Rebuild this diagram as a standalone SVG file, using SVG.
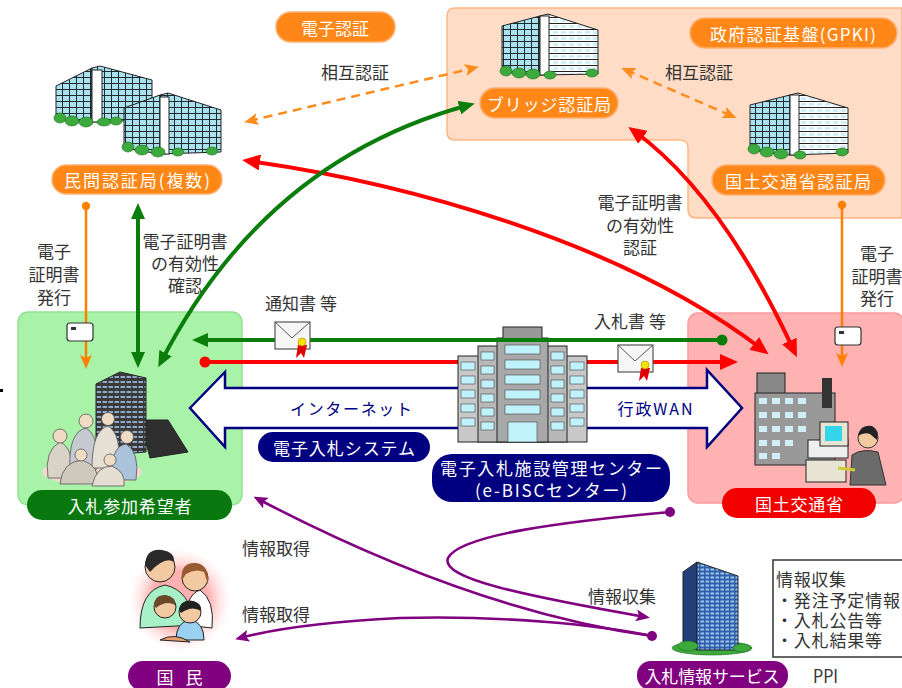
<svg xmlns="http://www.w3.org/2000/svg" width="902" height="688" viewBox="0 0 902 688">
<style>
  text{font-family:"Noto Sans CJK JP","Noto Sans",sans-serif;dominant-baseline:central}
  .lbl{font-size:17px;fill:#333}
  .pt{font-size:17px;fill:#fff;text-anchor:middle}
  .mid{text-anchor:middle}
  .pill-o{fill:#FF8717;stroke:#FFB070;stroke-width:1.5}
  .ln-g{fill:none;stroke:#0B7D0B;stroke-width:4}
  .ln-r{fill:none;stroke:#FF0000;stroke-width:4}
  .ln-o{fill:none;stroke:#FF8000;stroke-width:2.5}
  .ln-od{fill:none;stroke:#FF8C1A;stroke-width:2.5;stroke-dasharray:9 6}
  .ln-p{fill:none;stroke:#800080;stroke-width:2.6}
  .edge{stroke:#222;stroke-width:1}
  .shrub{fill:#3DAA3D;stroke:#1d6b1d;stroke-width:0.6}
  .env{fill:#f6f6f6;stroke:#555;stroke-width:1.2}
  .skin{fill:#F0DCC4;stroke:#555;stroke-width:0.8}
</style>
<defs>
  <pattern id="glass" width="7" height="6" patternUnits="userSpaceOnUse">
    <rect width="7" height="6" fill="#A9E2EE"/>
    <path d="M0,5.5H7M6.5,0V6" stroke="#1f2a30" stroke-width="1"/>
  </pattern>
  <pattern id="floors" width="8" height="6" patternUnits="userSpaceOnUse">
    <rect width="8" height="6" fill="#fff"/>
    <path d="M0,5.5H8" stroke="#222" stroke-width="1"/>
    <rect x="1" y="1" width="5" height="3" fill="#cfeff6"/>
  </pattern>
  <pattern id="darkwin" width="6" height="5" patternUnits="userSpaceOnUse">
    <rect width="6" height="5" fill="#3a3a3a"/>
    <rect x="0.5" y="1" width="4.5" height="2" fill="#8fa9c9"/>
  </pattern>
  <pattern id="bluewin" width="5" height="4" patternUnits="userSpaceOnUse">
    <rect width="5" height="4" fill="#2f5fa8"/>
    <rect x="0.5" y="0.5" width="3.5" height="2" fill="#9cc4ee"/>
  </pattern>
  <radialGradient id="glow" cx="0.5" cy="0.5" r="0.5">
    <stop offset="0.55" stop-color="#FFB0B0"/>
    <stop offset="1" stop-color="#FFE8E8" stop-opacity="0"/>
  </radialGradient>
  <marker id="ah-g" viewBox="0 0 16 14" refX="10" refY="7" markerWidth="16" markerHeight="14" orient="auto-start-reverse" markerUnits="userSpaceOnUse"><path d="M0,0L16,7L0,14z" fill="#0B7D0B"/></marker>
  <marker id="ah-r" viewBox="0 0 18 16" refX="11" refY="8" markerWidth="18" markerHeight="16" orient="auto-start-reverse" markerUnits="userSpaceOnUse"><path d="M0,0L18,8L0,16z" fill="#FF0000"/></marker>
  <marker id="ah-o" viewBox="0 0 14 12" refX="9" refY="6" markerWidth="14" markerHeight="12" orient="auto-start-reverse" markerUnits="userSpaceOnUse"><path d="M0,0L14,6L0,12L3,6z" fill="#FF8000"/></marker>
  <marker id="ah-od" viewBox="0 0 14 12" refX="9" refY="6" markerWidth="14" markerHeight="12" orient="auto-start-reverse" markerUnits="userSpaceOnUse"><path d="M0,0L14,6L0,12L3,6z" fill="#FF8C1A"/></marker>
  <marker id="ah-p" viewBox="0 0 14 12" refX="9" refY="6" markerWidth="14" markerHeight="12" orient="auto-start-reverse" markerUnits="userSpaceOnUse"><path d="M0,0L14,6L0,12L3,6z" fill="#800080"/></marker>
  <marker id="dot-g" viewBox="0 0 12 12" refX="6" refY="6" markerWidth="12" markerHeight="12" markerUnits="userSpaceOnUse"><circle cx="6" cy="6" r="5.5" fill="#0B7D0B"/></marker>
  <marker id="dot-r" viewBox="0 0 12 12" refX="6" refY="6" markerWidth="12" markerHeight="12" markerUnits="userSpaceOnUse"><circle cx="6" cy="6" r="5.5" fill="#FF0000"/></marker>
  <marker id="dot-o" viewBox="0 0 10 10" refX="5" refY="5" markerWidth="10" markerHeight="10" markerUnits="userSpaceOnUse"><circle cx="5" cy="5" r="4.2" fill="#FF8000"/></marker>
  <marker id="dot-p" viewBox="0 0 12 12" refX="6" refY="6" markerWidth="12" markerHeight="12" markerUnits="userSpaceOnUse"><circle cx="6" cy="6" r="5" fill="#800080"/></marker>
</defs>

<rect width="902" height="688" fill="#fff"/>
<rect x="0" y="389" width="3" height="3" fill="#000"/>

<!-- government PKI zone -->
<g id="gpki-zone">
  <path d="M455,8H902V218H697Q688,218 688,210V148Q688,140 680,140H455Q447,140 447,132V16Q447,8 455,8Z" fill="#FFDCC6" stroke="#FFB584" stroke-width="1.5"/>
  <rect class="pill-o" x="690" y="18" width="207" height="30" rx="15"/>
  <text class="pt" x="793" y="33" textLength="166">政府認証基盤(GPKI)</text>
</g>

<g id="e-auth">
  <rect class="pill-o" x="276" y="12" width="119" height="30" rx="15"/>
  <text class="pt" x="335" y="27">電子認証</text>
</g>

<!-- private certification authorities -->
<g id="private-ca">
  <polygon class="edge" points="56,86 92,68 92,122 56,118" fill="url(#glass)"/>
  <polygon class="edge" points="92,68 100,66 152,80 152,120 92,122" fill="url(#glass)"/>
  <rect class="edge" x="92" y="70" width="10" height="52" fill="#fff"/>
  <polygon class="edge" points="124,108 160,95 160,154 124,148" fill="url(#glass)"/>
  <polygon class="edge" points="160,95 168,93 221,110 221,152 160,154" fill="url(#glass)"/>
  <rect class="edge" x="160" y="97" width="9" height="57" fill="#fff"/>
  <g class="shrub">
    <ellipse cx="60" cy="118" rx="6" ry="5"/><ellipse cx="72" cy="121" rx="7" ry="5"/><ellipse cx="86" cy="122" rx="7" ry="5"/><ellipse cx="104" cy="122" rx="7" ry="4"/><ellipse cx="116" cy="121" rx="6" ry="4"/>
    <ellipse cx="128" cy="147" rx="6" ry="5"/><ellipse cx="142" cy="150" rx="7" ry="5"/><ellipse cx="158" cy="152" rx="7" ry="5"/><ellipse cx="178" cy="152" rx="6" ry="4"/><ellipse cx="212" cy="151" rx="6" ry="4"/>
  </g>
  <rect class="pill-o" x="52" y="165" width="170" height="29" rx="14.5"/>
  <text class="pt" x="137" y="179.5" textLength="146">民間認証局(複数)</text>
</g>

<!-- bridge CA -->
<g id="bridge-ca">
  <polygon class="edge" points="502,26 540,16 540,75 502,72" fill="url(#glass)"/>
  <polygon class="edge" points="540,16 548,14 598,30 598,74 540,75" fill="url(#floors)"/>
  <rect class="edge" x="540" y="16" width="9" height="59" fill="#fff"/>
  <g class="shrub">
    <ellipse cx="506" cy="71" rx="6" ry="5"/><ellipse cx="519" cy="73" rx="7" ry="5"/><ellipse cx="533" cy="74" rx="7" ry="5"/><ellipse cx="550" cy="75" rx="6" ry="4"/><ellipse cx="592" cy="73" rx="6" ry="4"/>
  </g>
  <rect class="pill-o" x="480" y="88" width="138" height="30" rx="15"/>
  <text class="pt" x="549" y="103" textLength="124">ブリッジ認証局</text>
</g>

<!-- MLIT CA -->
<g id="mlit-ca">
  <polygon class="edge" points="750,105 790,95 790,155 750,150" fill="url(#glass)"/>
  <polygon class="edge" points="790,95 798,93 848,108 848,153 790,155" fill="url(#floors)"/>
  <rect class="edge" x="790" y="95" width="9" height="60" fill="#fff"/>
  <g class="shrub">
    <ellipse cx="754" cy="149" rx="6" ry="5"/><ellipse cx="767" cy="152" rx="7" ry="5"/><ellipse cx="781" cy="154" rx="7" ry="5"/><ellipse cx="800" cy="155" rx="6" ry="4"/><ellipse cx="842" cy="152" rx="6" ry="4"/>
  </g>
  <rect class="pill-o" x="712" y="165" width="173" height="30" rx="15"/>
  <text class="pt" x="798" y="180" textLength="146">国土交通省認証局</text>
</g>

<!-- bidders -->
<g id="bidders">
  <rect x="18" y="312" width="224" height="193" rx="10" fill="#A9F3A9" stroke="#92E292" stroke-width="1.5"/>
  <polygon class="edge" points="140,420 168,420 188,452 150,458" fill="#2f2f2f"/>
  <polygon class="edge" points="96,384 120,372 146,378 146,452 96,456" fill="url(#darkwin)"/>
  <ellipse cx="92" cy="472" rx="50" ry="13" fill="#F3D8D0"/>
  <g stroke="#555" stroke-width="0.8">
    <path d="M48,478Q44,450 60,442Q74,448 72,478Z" fill="#d9d2c6"/>
    <path d="M70,470Q68,432 86,428Q100,436 96,470Z" fill="#c6cad0"/>
    <path d="M92,468Q92,430 108,426Q122,434 118,468Z" fill="#e6e0d4"/>
    <path d="M112,480Q110,446 126,444Q140,452 136,480Z" fill="#aac2da"/>
    <path d="M60,484Q62,462 82,460Q100,466 98,484Z" fill="#cfc8bc"/>
    <path d="M92,486Q96,466 112,466Q126,472 124,486Z" fill="#e4ddd2"/>
    <circle class="skin" cx="60" cy="436" r="7"/>
    <circle class="skin" cx="86" cy="421" r="7"/>
    <circle class="skin" cx="108" cy="419" r="6.5"/>
    <circle class="skin" cx="127" cy="437" r="6.5"/>
    <circle class="skin" cx="81" cy="455" r="6"/>
    <circle class="skin" cx="110" cy="460" r="6"/>
  </g>
  <rect x="27" y="490" width="205" height="30" rx="15" fill="#08780F"/>
  <text class="pt" x="129.5" y="505" textLength="124">入札参加希望者</text>
</g>

<!-- MLIT -->
<g id="mlit">
  <rect x="688" y="313" width="216" height="190" rx="10" fill="#FFB2B2" stroke="#FF9A9A" stroke-width="1.5"/>
  <rect class="edge" x="757" y="373" width="28" height="22" fill="#888"/>
  <rect class="edge" x="755" y="393" width="80" height="72" fill="#999"/>
  <g fill="#cfeef5">
    <rect x="759" y="398" width="8" height="6"/><rect x="772" y="398" width="8" height="6"/><rect x="785" y="398" width="8" height="6"/><rect x="798" y="398" width="8" height="6"/>
    <rect x="759" y="412" width="8" height="6"/><rect x="772" y="412" width="8" height="6"/><rect x="785" y="412" width="8" height="6"/><rect x="798" y="412" width="8" height="6"/>
    <rect x="759" y="426" width="8" height="6"/><rect x="772" y="426" width="8" height="6"/><rect x="785" y="426" width="8" height="6"/><rect x="798" y="426" width="8" height="6"/>
    <rect x="759" y="440" width="8" height="6"/><rect x="772" y="440" width="8" height="6"/><rect x="785" y="440" width="8" height="6"/>
    <rect x="759" y="453" width="8" height="6"/><rect x="772" y="453" width="8" height="6"/>
  </g>
  <rect x="822" y="378" width="10" height="30" fill="#333"/>
  <rect class="edge" x="808" y="440" width="40" height="18" fill="#eee"/>
  <rect class="edge" x="820" y="422" width="28" height="24" fill="#e8e4d4"/>
  <rect x="825" y="426" width="17" height="15" fill="#33D6E8"/>
  <rect class="edge" x="806" y="460" width="40" height="22" fill="#e8e4d4"/>
  <path d="M850,485L852,455Q862,448 878,452L886,485Z" fill="#6b6b6b" stroke="#333"/>
  <circle cx="868" cy="438" r="10" fill="#F2C9A0" stroke="#333"/>
  <path d="M858,436Q860,424 872,426Q880,430 877,440L870,434Q864,432 858,436Z" fill="#222"/>
  <path d="M855,470L838,468" stroke="#cc3" stroke-width="3"/>
  <rect x="722" y="488" width="154" height="30" rx="15" fill="#F20000"/>
  <text class="pt" x="799" y="503" textLength="88">国土交通省</text>
</g>

<!-- network channel -->
<g id="network">
  <polygon points="190,408 225,372 225,388 707,388 707,370 742,408 707,447 707,428 225,428 225,447" fill="#fff" stroke="#000080" stroke-width="2.5" stroke-linejoin="miter"/>
  <text x="351" y="408" class="mid" font-size="16" fill="#000080" textLength="122">インターネット</text>
  <text x="655" y="408" class="mid" font-size="16" fill="#000080" textLength="75">行政WAN</text>
</g>

<!-- connectors -->
<g id="connectors">
  <path class="ln-od" d="M249,121L474,68" marker-start="url(#ah-od)" marker-end="url(#ah-od)"/>
  <path class="ln-od" d="M626,70L732,116" marker-start="url(#ah-od)" marker-end="url(#ah-od)"/>
  <path class="ln-r" d="M249,161C400,182 620,240 763,350" marker-start="url(#ah-r)" marker-end="url(#ah-r)"/>
  <path class="ln-r" d="M634,131Q722,195 794,351" marker-start="url(#ah-r)" marker-end="url(#ah-r)"/>
  <path class="ln-g" d="M161,362Q265,160 469,105" marker-start="url(#ah-g)" marker-end="url(#ah-g)"/>
  <path class="ln-g" d="M138,362V209" marker-start="url(#ah-g)" marker-end="url(#ah-g)"/>
  <path class="ln-o" d="M86,206V364" marker-start="url(#dot-o)" marker-end="url(#ah-o)"/>
  <path class="ln-o" d="M842,205V362" marker-start="url(#dot-o)" marker-end="url(#ah-o)"/>
  <path class="ln-r" d="M205,362H460M585,362H731" marker-start="url(#dot-r)" marker-end="url(#ah-r)"/>
  <path class="ln-p" d="M670,512C560,522 460,535 448,558C440,578 520,595 645,617" marker-start="url(#dot-p)" marker-end="url(#ah-p)"/>
  <path class="ln-p" d="M652,636Q470,610 258,499" marker-start="url(#dot-p)" marker-end="url(#ah-p)"/>
  <path class="ln-p" d="M652,636C600,625 500,615 400,618C320,622 270,630 240,638" marker-end="url(#ah-p)"/>
  <!-- certificate cards -->
  <rect x="67" y="323" width="26" height="18" rx="3" fill="#fff" stroke="#333" stroke-width="1.2"/>
  <rect x="71" y="327" width="5" height="3" fill="#333"/>
  <rect x="835" y="327" width="26" height="18" rx="3" fill="#fff" stroke="#333" stroke-width="1.2"/>
  <rect x="839" y="331" width="5" height="3" fill="#333"/>
</g>

<!-- e-BISC center -->
<g id="ebisc">
  <rect class="edge" x="458" y="356" width="129" height="86" fill="#c8c8c8"/>
  <rect class="edge" x="478" y="346" width="89" height="96" fill="#b8b8b8"/>
  <rect class="edge" x="497" y="338" width="51" height="104" fill="#a8a8a8"/>
  <rect class="edge" x="503" y="327" width="39" height="14" fill="#999"/>
  <g fill="#BFF2FA" stroke="#444" stroke-width="0.6">
    <rect x="461" y="362" width="14" height="8"/><rect x="461" y="376" width="14" height="8"/><rect x="461" y="390" width="14" height="8"/><rect x="461" y="404" width="14" height="8"/><rect x="461" y="418" width="14" height="8"/>
    <rect x="570" y="362" width="14" height="8"/><rect x="570" y="376" width="14" height="8"/><rect x="570" y="390" width="14" height="8"/><rect x="570" y="404" width="14" height="8"/><rect x="570" y="418" width="14" height="8"/>
    <rect x="481" y="352" width="13" height="8"/><rect x="481" y="366" width="13" height="8"/><rect x="481" y="380" width="13" height="8"/><rect x="481" y="394" width="13" height="8"/><rect x="481" y="408" width="13" height="8"/><rect x="481" y="422" width="13" height="8"/>
    <rect x="551" y="352" width="13" height="8"/><rect x="551" y="366" width="13" height="8"/><rect x="551" y="380" width="13" height="8"/><rect x="551" y="394" width="13" height="8"/><rect x="551" y="408" width="13" height="8"/><rect x="551" y="422" width="13" height="8"/>
    <rect x="505" y="345" width="35" height="9"/><rect x="505" y="360" width="35" height="9"/><rect x="505" y="375" width="35" height="9"/><rect x="505" y="390" width="35" height="9"/><rect x="505" y="405" width="35" height="9"/>
    <rect x="508" y="422" width="29" height="20"/>
  </g>
  <rect x="432" y="454" width="238" height="48" rx="20" fill="#000080"/>
  <text class="pt"><tspan x="551" y="467" textLength="222">電子入札施設管理センター</tspan><tspan x="551" y="489" textLength="152">(e-BISCセンター)</tspan></text>
</g>

<g id="ebid-system">
  <rect x="258" y="432" width="172" height="30" rx="15" fill="#000080"/>
  <text class="pt" x="344" y="447" textLength="142">電子入札システム</text>
</g>

<!-- messages on the lines -->
<g id="messages">
  <path class="ln-g" d="M722,340H198" marker-start="url(#dot-g)" marker-end="url(#ah-g)"/>
  <rect class="env" x="275" y="322" width="35" height="27"/>
  <path d="M275,322L292,338L310,322" fill="none" stroke="#555" stroke-width="1"/>
  <path d="M298,345L296,358L301,353L304,358L307,345Z" fill="#E00000"/>
  <circle cx="302" cy="342" r="4" fill="#F5E400" stroke="#a80" stroke-width="0.6"/>
  <rect class="env" x="618" y="345" width="35" height="27"/>
  <path d="M618,345L635,361L653,345" fill="none" stroke="#555" stroke-width="1"/>
  <path d="M641,368L639,381L644,376L647,381L650,368Z" fill="#E00000"/>
  <circle cx="645" cy="365" r="4" fill="#F5E400" stroke="#a80" stroke-width="0.6"/>
  <text class="lbl mid" x="301" y="302">通知書 等</text>
  <text class="lbl mid" x="630" y="320">入札書 等</text>
</g>

<!-- citizens -->
<g id="citizens">
  <circle cx="180" cy="600" r="52" fill="url(#glow)"/>
  <path d="M140,628Q140,590 165,585Q190,590 195,625Z" fill="#A8F0C8" stroke="#222"/>
  <path d="M185,625Q185,595 200,590Q215,600 212,628Z" fill="#fff" stroke="#222"/>
  <circle cx="160" cy="567" r="15" fill="#F2C9A0" stroke="#222"/>
  <path d="M145,565Q146,548 162,550Q175,552 174,562Q165,556 150,572Z" fill="#2a2a2a"/>
  <circle cx="195" cy="578" r="13" fill="#F2C9A0" stroke="#222"/>
  <path d="M182,580Q180,562 196,563Q210,565 208,584L204,572Q195,568 186,574Z" fill="#9a5a30"/>
  <circle cx="165" cy="607" r="11" fill="#F2C9A0" stroke="#222"/>
  <path d="M154,605Q155,594 166,595Q176,597 175,605Q166,600 156,608Z" fill="#6b4a2a"/>
  <path d="M176,640Q176,622 190,620Q204,622 204,640Z" fill="#9AD0F0" stroke="#222"/>
  <circle cx="190" cy="612" r="11" fill="#F2C9A0" stroke="#222"/>
  <path d="M179,610Q180,600 191,601Q202,602 201,611Q192,605 181,613Z" fill="#222"/>
  <path d="M160,640Q175,632 190,642Z" fill="#E8A070" stroke="#222"/>
  <rect x="128" y="661" width="103" height="30" rx="15" fill="#800080"/>
  <text class="pt" x="179.5" y="676" textLength="46">国 民</text>
</g>

<!-- bid information service -->
<g id="ppi">
  <ellipse cx="712" cy="648" rx="40" ry="7" class="shrub"/>
  <polygon class="edge" points="683,572 697,562 697,650 683,645" fill="#24407a"/>
  <polygon class="edge" points="697,562 738,576 738,650 697,650" fill="url(#bluewin)"/>
  <ellipse cx="688" cy="646" rx="10" ry="5" class="shrub"/>
  <ellipse cx="742" cy="648" rx="9" ry="4" class="shrub"/>
  <rect x="637" y="661" width="151" height="29" rx="14" fill="#800080"/>
  <text class="pt" x="712" y="675" textLength="135">入札情報サービス</text>
  <text x="813" y="675" font-family="'Liberation Sans',sans-serif" font-size="18" fill="#333" textLength="25" lengthAdjust="spacingAndGlyphs">PPI</text>
  <rect x="773" y="560" width="134" height="97" fill="#fff" stroke="#333" stroke-width="1.5"/>
  <text class="lbl"><tspan x="776" y="578" textLength="70">情報収集</tspan><tspan x="776" y="599" textLength="124">・発注予定情報</tspan><tspan x="776" y="619" textLength="106">・入札公告等</tspan><tspan x="776" y="639" textLength="106">・入札結果等</tspan></text>
</g>

<!-- connector labels -->
<g id="labels">
  <text class="lbl mid" x="355" y="71">相互認証</text>
  <text class="lbl mid" x="699" y="71">相互認証</text>
  <text class="lbl mid"><tspan x="54" y="250">電子</tspan><tspan x="54" y="273">証明書</tspan><tspan x="54" y="296">発行</tspan></text>
  <text class="lbl mid"><tspan x="185" y="240">電子証明書</tspan><tspan x="185" y="262">の有効性</tspan><tspan x="185" y="284">確認</tspan></text>
  <text class="lbl mid"><tspan x="640" y="201">電子証明書</tspan><tspan x="640" y="224">の有効性</tspan><tspan x="640" y="246">認証</tspan></text>
  <text class="lbl mid"><tspan x="877" y="252">電子</tspan><tspan x="877" y="275">証明書</tspan><tspan x="877" y="297">発行</tspan></text>
  <text class="lbl mid" x="276" y="547">情報取得</text>
  <text class="lbl mid" x="276" y="613">情報取得</text>
  <text class="lbl mid" x="622" y="595">情報収集</text>
</g>
</svg>
